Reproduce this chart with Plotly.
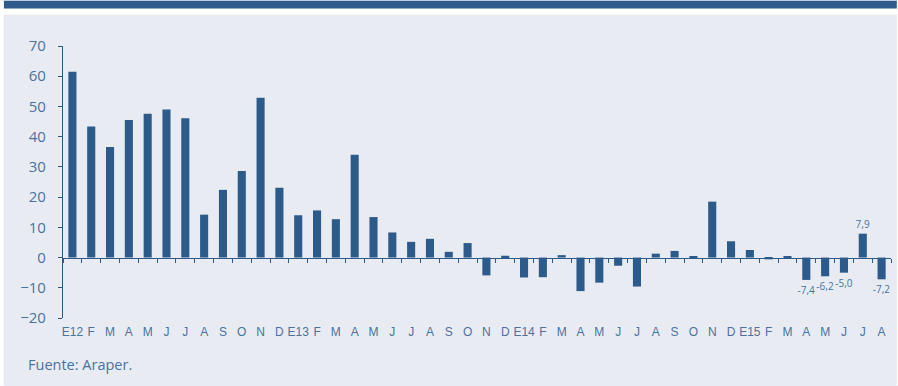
import plotly.graph_objects as go

# ---- data ----
month_labels = ["E12", "F", "M", "A", "M", "J", "J", "A", "S", "O", "N", "D",
                "E13", "F", "M", "A", "M", "J", "J", "A", "S", "O", "N", "D",
                "E14", "F", "M", "A", "M", "J", "J", "A", "S", "O", "N", "D",
                "E15", "F", "M", "A", "M", "J", "J", "A"]
values = [61.5, 43.4, 36.6, 45.5, 47.6, 49.0, 46.1, 14.2, 22.4, 28.6, 52.9, 23.1,
          14.0, 15.6, 12.7, 34.0, 13.4, 8.3, 5.2, 6.2, 1.9, 4.8, -5.9, 0.6,
          -6.6, -6.5, 0.8, -11.1, -8.3, -2.7, -9.6, 1.3, 2.2, 0.5, 18.5, 5.4,
          2.5, -0.6, 0.5, -7.4, -6.2, -5.0, 7.9, -7.2]
labelled_last = 5  # last five bars carry a value label
y_ticks = [-20, -10, 0, 10, 20, 30, 40, 50, 60, 70]
source_text = "Fuente: Araper."

# ---- styling ----
W, H = 898, 386
L, R, T, B = 63.3, 6.9, 45.5, 67.7
BAR = "#2c5a8b"
TOP = "#2e5b8c"
PANEL = "#e8ecf2"
TXT = "#4a72a0"

def fx(px):
    return (px - L) / (W - L - R)

def fy(py):
    return (H - B - py) / (H - T - B)

n = len(values)
xs = list(range(n))
texts = [""] * (n - labelled_last) + [f"{v:.1f}".replace(".", ",") for v in values[-labelled_last:]]

fig = go.Figure()
fig.add_trace(go.Bar(
    x=xs, y=values, marker=dict(color=BAR, line=dict(width=0)),
    text=texts, textposition="outside", constraintext="none", cliponaxis=False,
    textfont=dict(family="Open Sans", size=10, color=TXT),
    width=0.43, showlegend=False, hoverinfo="skip",
))
# invisible helper trace so that the zero-line axis (x2) is drawn
fig.add_trace(go.Scatter(
    x=xs, y=values, xaxis="x2", mode="markers", marker=dict(opacity=0),
    showlegend=False, hoverinfo="skip",
))

ymin, ymax = y_ticks[0], y_ticks[-1]
fig.update_layout(
    width=W, height=H,
    margin=dict(l=L, r=R, t=T, b=B, pad=0),
    paper_bgcolor=PANEL, plot_bgcolor=PANEL,
    xaxis=dict(
        range=[-0.5, n - 0.5], tickvals=xs, ticktext=month_labels,
        showline=False, ticks="", showgrid=False, zeroline=False,
        tickfont=dict(family="Liberation Sans Narrow, Arial Narrow, sans-serif", size=12, color=TXT),
        ticklabelstandoff=5,
    ),
    xaxis2=dict(
        overlaying="x", anchor="free", position=(0 - ymin) / (ymax - ymin),
        range=[-0.5, n - 0.5], tickvals=[i - 0.5 for i in range(n + 1)],
        ticks="outside", ticklen=4, tickcolor=BAR, tickwidth=1,
        showline=True, linecolor=BAR, linewidth=1.2,
        showticklabels=False, showgrid=False, zeroline=False, side="bottom",
    ),
    yaxis=dict(
        range=[ymin, ymax], tickvals=y_ticks,
        showline=True, linecolor=BAR, linewidth=1.2,
        ticks="outside", ticklen=4, tickcolor=BAR,
        showgrid=False, zeroline=False,
        tickfont=dict(family="Open Sans", size=15, color=TXT),
        ticklabelstandoff=9,
    ),
    shapes=[
        dict(type="rect", xref="paper", yref="paper", x0=fx(0), x1=fx(W), y0=fy(14), y1=fy(0),
             fillcolor="white", line=dict(width=0), layer="below"),
        dict(type="rect", xref="paper", yref="paper", x0=fx(4), x1=fx(897), y0=fy(8), y1=fy(0),
             fillcolor=TOP, line=dict(width=0), layer="below"),
        dict(type="rect", xref="paper", yref="paper", x0=fx(0), x1=fx(4), y0=fy(H), y1=fy(0),
             fillcolor="white", line=dict(width=0), layer="below"),
        dict(type="rect", xref="paper", yref="paper", x0=fx(897), x1=fx(W), y0=fy(H), y1=fy(0),
             fillcolor="white", line=dict(width=0), layer="below"),
    ],
    annotations=[
        dict(text=source_text, xref="paper", yref="paper", x=fx(26), y=fy(365),
             xanchor="left", yanchor="middle", showarrow=False,
             font=dict(family="Open Sans", size=14.5, color=TXT)),
    ],
)

fig.write_html("out.html")
